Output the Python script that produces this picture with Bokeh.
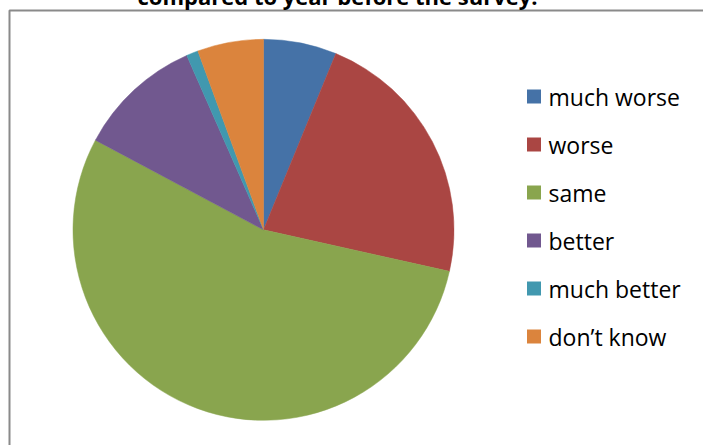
import math
from bokeh.plotting import figure
from bokeh.models import Range1d, ColumnDataSource
from bokeh.core.properties import value
from bokeh.embed import file_html
from bokeh.resources import INLINE

title_text = "compared to year before the survey."
categories = ["much worse", "worse", "same", "better", "much better", "don\u2019t know"]
shares = [6.2, 22.3, 54.3, 10.6, 1.0, 5.6]
colors = ["#4572A7", "#AA4643", "#89A54E", "#71588F", "#4198AF", "#DB843D"]

W, H = 703, 445
OFF = 8
p = figure(width=W + OFF, height=H + OFF, output_backend="svg", toolbar_location=None,
           x_range=Range1d(-OFF, W), y_range=Range1d(0, H + OFF), min_border=0)
p.styles = {"margin-top": "-8px", "margin-left": "-8px", "margin-bottom": "-8px", "margin-right": "-8px"}
p.axis.visible = False
p.grid.visible = False
p.outline_line_color = None
p.background_fill_color = "white"
p.border_fill_color = "white"

# chart border (clipped by the window)
p.quad(left=[9], right=[W + 50], bottom=[-50], top=[H - 10],
       fill_color=None, line_color="#8a8a8a", line_width=2)

# title, mostly above the visible window
p.text(x=[337], y=[H + 5], text=[title_text], text_font=value("Open Sans"),
       text_font_style="bold", text_font_size="22px", text_align="center",
       text_baseline="alphabetic", text_color="black")

# pie
total = sum(shares)
starts, ends = [], []
cum = 0.0
for s in shares:
    a0 = math.pi / 2 - 2 * math.pi * (cum + s) / total
    a1 = math.pi / 2 - 2 * math.pi * cum / total
    starts.append(a0)
    ends.append(a1)
    cum += s
src = ColumnDataSource(dict(start=starts, end=ends, color=colors))
cx, cy, r = 263, H - 229.3, 190.5
p.wedge(x=cx, y=cy, radius=r, start_angle="start", end_angle="end",
        fill_color="color", line_color="color", line_width=0.5, source=src)

# legend
ly = [H - (96 + 48 * i) for i in range(len(categories))]
lsrc = ColumnDataSource(dict(y=ly, label=categories, color=colors))
p.rect(x=533.5, y="y", width=14, height=14, fill_color="color", line_color=None, source=lsrc)
p.text(x=548, y="y", text="label", source=lsrc, text_font=value("Open Sans"),
       text_font_size="23px", text_baseline="middle", text_align="left", text_color="black")

open("out.html", "w").write(file_html(p, INLINE))
